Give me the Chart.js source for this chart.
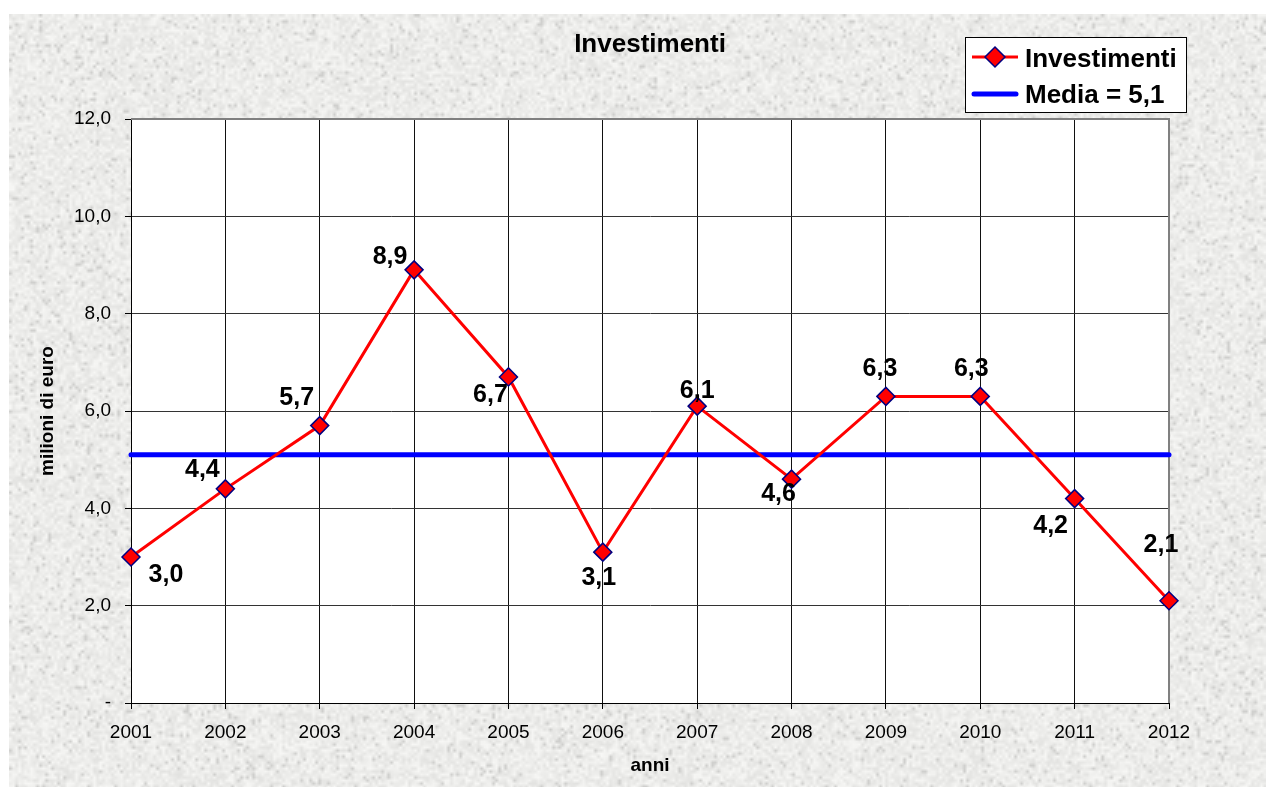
<!DOCTYPE html>
<html lang="it">
<head>
<meta charset="utf-8">
<title>Investimenti</title>
<script src="https://cdn.jsdelivr.net/npm/chart.js@4.4.1/dist/chart.umd.min.js"></script>
<style>
html, body { margin: 0; padding: 0; background: #fff; overflow: hidden; }
#wrap { position: relative; width: 1266px; height: 787px; }
#sfondo { position: absolute; left: 9px; top: 14px; }
#grafico { position: absolute; left: 0; top: 0; }
</style>
</head>
<body>
<div id="wrap">
    <canvas id="sfondo" width="1257" height="773"></canvas>
    <canvas id="grafico" width="1266" height="787"></canvas>
</div>
<script>
// dati
const anni = ['2001', '2002', '2003', '2004', '2005', '2006', '2007', '2008', '2009', '2010', '2011', '2012'];
const investimenti = [3.0, 4.4, 5.7, 8.9, 6.7, 3.1, 6.1, 4.6, 6.3, 6.3, 4.2, 2.1];
const media = 5.1;
const yMin = 0;
const yMax = 12;
const yPasso = 2;

// spostamento delle etichette rispetto al punto (px)
const posEtichette = [
    [35, 16], [-23, -21], [-23, -30], [-24, -15], [-18, 16], [-4, 24],
    [0, -17], [-13, 13], [-6, -29], [-9, -29], [-24, 25], [-8, -58]
];

const FONT = "'Liberation Sans', Arial, sans-serif";
Chart.defaults.font.family = FONT;
Chart.defaults.color = '#000';

function virgola(v) {
    return v.toFixed(1).replace('.', ',');
}

// sfondo tipo granito
(function () {
    const bg = document.getElementById('sfondo');
    const g = bg.getContext('2d');
    const w = Math.ceil(bg.width / 3), h = Math.ceil(bg.height / 3);
    const small = document.createElement('canvas');
    small.width = w; small.height = h;
    const sg = small.getContext('2d');
    const img = sg.createImageData(w, h);
    function hash(i) {
        const x = Math.sin(i * 12.9898 + 78.233) * 43758.5453;
        return x - Math.floor(x);
    }
    for (let i = 0; i < w * h; i++) {
        const r = hash(i);
        let v = 236 + (r - 0.5) * 22;
        if (r < 0.06) v -= 18;
        img.data[i * 4] = v;
        img.data[i * 4 + 1] = v;
        img.data[i * 4 + 2] = v - 2;
        img.data[i * 4 + 3] = 255;
    }
    sg.putImageData(img, 0, 0);
    g.imageSmoothingEnabled = true;
    g.drawImage(small, 0, 0, w * 3, h * 3);
})();

const areaBianca = {
    id: 'areaBianca',
    beforeDraw(chart) {
        const { ctx, chartArea: a } = chart;
        ctx.save();
        ctx.fillStyle = '#fff';
        ctx.fillRect(a.left, a.top, a.right - a.left, a.bottom - a.top);
        ctx.restore();
    },
    beforeDatasetsDraw(chart) {
        const { ctx, chartArea: a } = chart;
        ctx.save();
        ctx.strokeStyle = '#808080';
        ctx.lineWidth = 2;
        ctx.beginPath();
        ctx.moveTo(a.left, a.top);
        ctx.lineTo(a.right, a.top);
        ctx.lineTo(a.right, a.bottom);
        ctx.stroke();
        ctx.restore();
    }
};

const etichette = {
    id: 'etichette',
    afterDatasetsDraw(chart) {
        const ctx = chart.ctx;
        const meta = chart.getDatasetMeta(0);
        ctx.save();
        ctx.font = 'bold 25px ' + FONT;
        ctx.fillStyle = '#000';
        ctx.textAlign = 'center';
        ctx.textBaseline = 'alphabetic';
        meta.data.forEach((pt, i) => {
            ctx.fillText(virgola(investimenti[i]), pt.x + posEtichette[i][0], pt.y + posEtichette[i][1] + 9);
        });
        ctx.restore();
    }
};

// titolo e legenda
const titoloLegenda = {
    id: 'titoloLegenda',
    afterDraw(chart) {
        const { ctx, chartArea: a } = chart;
        ctx.save();
        ctx.fillStyle = '#000';
        ctx.font = 'bold 26px ' + FONT;
        ctx.textAlign = 'center';
        ctx.textBaseline = 'alphabetic';
        ctx.fillText('Investimenti', (a.left + a.right) / 2, 52);

        // riquadro legenda
        ctx.fillStyle = '#fff';
        ctx.fillRect(965, 37, 222, 76);
        ctx.strokeStyle = '#000';
        ctx.lineWidth = 1;
        ctx.strokeRect(965.5, 37.5, 221, 75);

        // Investimenti
        ctx.strokeStyle = '#ff0000';
        ctx.lineWidth = 3;
        ctx.beginPath();
        ctx.moveTo(972, 57);
        ctx.lineTo(1018, 57);
        ctx.stroke();
        ctx.fillStyle = '#ff0000';
        ctx.strokeStyle = '#000080';
        ctx.lineWidth = 1.5;
        ctx.beginPath();
        ctx.moveTo(995, 47);
        ctx.lineTo(1005, 57);
        ctx.lineTo(995, 67);
        ctx.lineTo(985, 57);
        ctx.closePath();
        ctx.fill();
        ctx.stroke();

        // media
        ctx.strokeStyle = '#0000ff';
        ctx.lineWidth = 5;
        ctx.lineCap = 'round';
        ctx.beginPath();
        ctx.moveTo(974, 94);
        ctx.lineTo(1016, 94);
        ctx.stroke();

        ctx.fillStyle = '#000';
        ctx.textAlign = 'left';
        ctx.font = 'bold 26px ' + FONT;
        ctx.fillText('Investimenti', 1025, 67);
        ctx.fillText('Media = ' + virgola(media), 1025, 103);
        ctx.restore();
    }
};

const ctx = document.getElementById('grafico').getContext('2d');
const grafico = new Chart(ctx, {
    type: 'line',
    data: {
        labels: anni,
        datasets: [{
            label: 'Investimenti',
            data: investimenti,
            borderColor: '#ff0000',
            backgroundColor: '#ff0000',
            borderWidth: 3,
            pointStyle: 'rectRot',
            pointRadius: 9,
            pointBackgroundColor: '#ff0000',
            pointBorderColor: '#000080',
            pointBorderWidth: 1.5,
            tension: 0,
            clip: false,
            order: 0
        }, {
            label: 'Media = ' + virgola(media),
            data: anni.map(() => media),
            borderColor: '#0000ff',
            borderWidth: 5,
            borderCapStyle: 'round',
            pointRadius: 0,
            clip: false,
            order: 1
        }]
    },
    options: {
        responsive: false,
        animation: false,
        layout: { padding: { top: 119, right: 97, left: 0, bottom: 0 } },
        plugins: {
            legend: { display: false },
            title: { display: false },
            tooltip: { enabled: false }
        },
        scales: {
            x: {
                offset: false,
                grid: { offset: false, color: '#111', lineWidth: 1, tickLength: 6, tickColor: '#000' },
                border: { color: '#000', width: 1 },
                ticks: { font: { size: 19 }, color: '#000', padding: 12, maxRotation: 0, autoSkip: false },
                title: {
                    display: true, text: 'anni', color: '#000',
                    font: { size: 19, weight: 'bold' },
                    padding: { top: 0, bottom: 10 }
                },
                afterFit: s => { s.height = 84; }
            },
            y: {
                min: yMin,
                max: yMax,
                grid: { color: '#333', lineWidth: 1, tickLength: 6, tickColor: '#000' },
                border: { color: '#000', width: 1 },
                ticks: {
                    stepSize: yPasso,
                    font: { size: 19 },
                    color: '#000',
                    padding: 14,
                    callback: v => v === 0 ? '-' : virgola(v)
                },
                title: {
                    display: true, text: 'milioni di euro', color: '#000',
                    font: { size: 19, weight: 'bold' },
                    padding: { top: 36, bottom: 0 }
                },
                afterFit: s => { s.width = 131; }
            }
        }
    },
    plugins: [areaBianca, etichette, titoloLegenda]
});
</script>
</body>
</html>
